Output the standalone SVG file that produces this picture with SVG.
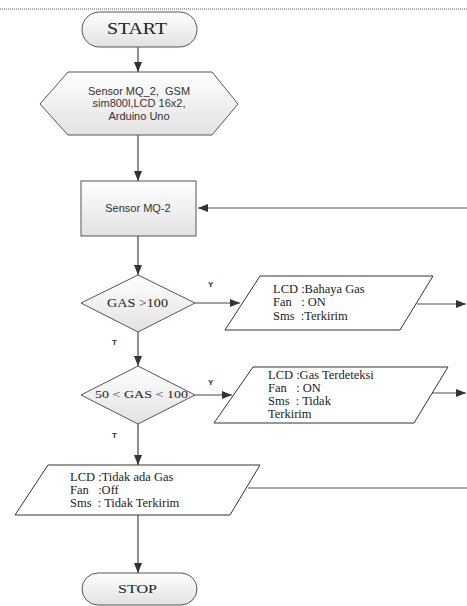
<svg xmlns="http://www.w3.org/2000/svg" width="467" height="606" viewBox="0 0 467 606">
<style>
.sh{fill:url(#g);stroke:#555;stroke-width:1}
.pl{fill:#fff;stroke:#333;stroke-width:1}
.ln{stroke:#444;stroke-width:1.2;fill:none}
.lg{stroke:#888;stroke-width:1.5;fill:none}
.t{font-family:"Liberation Serif",serif;fill:#222;white-space:pre}
.s{font-family:"Liberation Sans",sans-serif;fill:#333;white-space:pre}
.lbl{font-family:"Liberation Sans",sans-serif;font-weight:bold;font-size:8px;fill:#333}
</style>
<defs>
<linearGradient id="g" x1="0" y1="0" x2="0" y2="1">
<stop offset="0" stop-color="#ffffff"/><stop offset="1" stop-color="#e2e2e2"/>
</linearGradient>
<marker id="a" markerWidth="10" markerHeight="8" refX="10" refY="4" orient="auto" markerUnits="userSpaceOnUse">
<path d="M0,0 L10,4 L0,8 z" fill="#333"/>
</marker>
</defs>
<line x1="0" y1="9" x2="467" y2="9" stroke="#555" stroke-width="1" stroke-dasharray="1,1"/>
<g id="connectors">
<line class="ln" x1="138" y1="47" x2="138" y2="72" marker-end="url(#a)"/>
<line class="ln" x1="138" y1="135" x2="138" y2="181" marker-end="url(#a)"/>
<line class="ln" x1="138" y1="236" x2="138" y2="275" marker-end="url(#a)"/>
<line class="lg" x1="467" y1="208" x2="198" y2="208" marker-end="url(#a)"/>
<line class="ln" x1="195" y1="303" x2="240" y2="303" marker-end="url(#a)"/>
<line class="lg" x1="417" y1="304" x2="466" y2="304" marker-end="url(#a)"/>
<line class="ln" x1="138" y1="332" x2="138" y2="366" marker-end="url(#a)"/>
<line class="ln" x1="195" y1="395" x2="232" y2="395" marker-end="url(#a)"/>
<line class="lg" x1="431" y1="393" x2="466" y2="393" marker-end="url(#a)"/>
<line class="ln" x1="138" y1="424" x2="138" y2="465" marker-end="url(#a)"/>
<line class="lg" x1="248" y1="488" x2="467" y2="488"/>
<line class="ln" x1="138" y1="515" x2="138" y2="573" marker-end="url(#a)"/>
<text class="lbl" x="208" y="287">Y</text>
<text class="lbl" x="112" y="345">T</text>
<text class="lbl" x="208" y="385">Y</text>
<text class="lbl" x="112" y="438">T</text>
</g>
<g id="start">
<rect class="sh" x="82" y="12" width="115" height="35" rx="17.5"/>
<text class="t" x="107" y="34" font-size="17" textLength="60" lengthAdjust="spacingAndGlyphs" fill="#333">START</text>
</g>
<g id="init">
<polygon class="sh" points="68,72 212,72 238,104 212,135 68,135 40,104"/>
<text class="s" font-size="11" text-anchor="middle" xml:space="preserve"><tspan x="139" y="94.5">Sensor MQ_2,  GSM</tspan><tspan x="139" y="107">sim800l,LCD 16x2,</tspan><tspan x="139" y="119.5">Arduino Uno</tspan></text>
</g>
<g id="sensor">
<rect class="sh" x="81" y="181" width="115" height="55"/>
<text class="s" x="138" y="212" font-size="11" text-anchor="middle">Sensor MQ-2</text>
</g>
<g id="dec1">
<polygon class="sh" points="138,275 195,303 138,332 81,303"/>
<text class="t" x="107" y="307" font-size="12" textLength="61" lengthAdjust="spacingAndGlyphs" fill="#555">GAS &gt;100</text>
</g>
<g id="out1">
<polygon class="pl" points="260,276 433,276 400,330 225,330"/>
<text class="t" font-size="12.5" xml:space="preserve"><tspan x="273" y="293">LCD :Bahaya Gas</tspan><tspan x="273" y="306.2">Fan   : ON</tspan><tspan x="273" y="319.5">Sms  :Terkirim</tspan></text>
</g>
<g id="dec2">
<polygon class="sh" points="138,366 195,395 138,424 81,395"/>
<text class="t" x="95" y="398" font-size="10.5" textLength="93" lengthAdjust="spacingAndGlyphs" fill="#555">50 &lt; GAS &lt; 100</text>
</g>
<g id="out2">
<polygon class="pl" points="253,367 448,367 414,423 214,423"/>
<text class="t" font-size="12.5" xml:space="preserve"><tspan x="268" y="379">LCD :Gas Terdeteksi</tspan><tspan x="268" y="392">Fan   : ON</tspan><tspan x="268" y="405">Sms  : Tidak</tspan><tspan x="268" y="418">Terkirim</tspan></text>
</g>
<g id="out3">
<polygon class="pl" points="48,465 260,465 230,515 15,515"/>
<text class="t" font-size="12.5" xml:space="preserve"><tspan x="70" y="481">LCD :Tidak ada Gas</tspan><tspan x="70" y="494">Fan   :Off</tspan><tspan x="70" y="507">Sms  : Tidak Terkirim</tspan></text>
</g>
<g id="stop">
<rect class="sh" x="82" y="573" width="115" height="32" rx="16"/>
<text class="t" x="118" y="593" font-size="13.5" textLength="39" lengthAdjust="spacingAndGlyphs" fill="#333">STOP</text>
</g>
</svg>
